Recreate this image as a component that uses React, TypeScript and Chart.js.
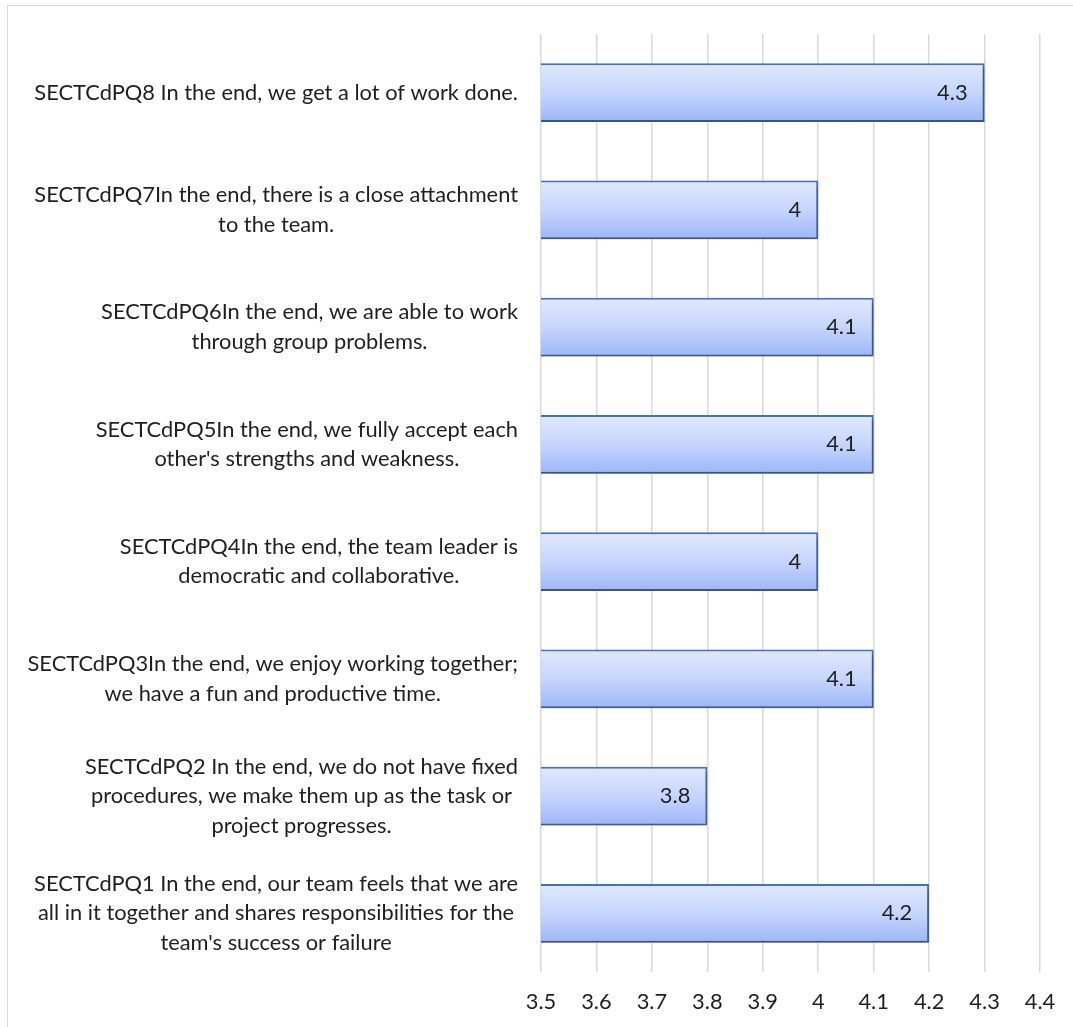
import React, { useEffect, useRef } from "react";
import { Chart, registerables } from "chart.js";

Chart.register(...registerables);

// ---- data ----
const categoryLines: string[][] = [
  ["SECTCdPQ8 In the end, we get a lot of work done."],
  ["SECTCdPQ7In the end, there is a close attachment", "to the team."],
  ["SECTCdPQ6In the end, we are able to work", "through group problems."],
  ["SECTCdPQ5In the end, we fully accept each", "other's strengths and weakness."],
  ["SECTCdPQ4In the end, the team leader is", "democratic and collaborative."],
  ["SECTCdPQ3In the end, we enjoy working together;", "we have a fun and productive time."],
  ["SECTCdPQ2 In the end, we do not have fixed", "procedures, we make them up as the task or", "project progresses."],
  ["SECTCdPQ1 In the end, our team feels that we are", "all in it together and shares responsibilities for the", "team's success or failure"],
];
const values: number[] = [4.3, 4.0, 4.1, 4.1, 4.0, 4.1, 3.8, 4.2];
const valueLabels: string[] = ["4.3", "4", "4.1", "4.1", "4", "4.1", "3.8", "4.2"];
const xTickLabels: string[] = ["3.5", "3.6", "3.7", "3.8", "3.9", "4", "4.1", "4.2", "4.3", "4.4"];
const xMin = 3.5;
const xMax = 4.4;
const xStep = 0.1;

const FONT_FAMILY = "Lato, 'Open Sans', sans-serif";
const TEXT_COLOR = "#1f1f1f";

export default function App() {
  const canvasRef = useRef<HTMLCanvasElement | null>(null);

  useEffect(() => {
    const canvas = canvasRef.current;
    if (!canvas) return;
    const mctx = canvas.getContext("2d")!;
    mctx.font = `100px ${FONT_FAMILY}`;
    const w = mctx.measureText(categoryLines[0][0]).width;
    const fontSize = Math.max(16, Math.min(26, (100 * 484) / w));
    const lineHeight = 29.5;
    const labelRight = 518;

    const barPlugin = {
      id: "excelLook",
      beforeDatasetsDraw(chart: any) {
        const ctx = chart.ctx;
        ctx.save();
        ctx.shadowColor = "rgba(0,0,0,0.32)";
        ctx.shadowBlur = 5;
        ctx.shadowOffsetX = 2;
        ctx.shadowOffsetY = 3;
      },
      afterDatasetsDraw(chart: any) {
        const ctx = chart.ctx;
        ctx.restore();
        // value labels
        const meta = chart.getDatasetMeta(0);
        ctx.save();
        ctx.font = `${fontSize}px ${FONT_FAMILY}`;
        ctx.fillStyle = TEXT_COLOR;
        ctx.textAlign = "right";
        ctx.textBaseline = "middle";
        meta.data.forEach((bar: any, i: number) => {
          const p = bar.getProps(["x", "y"], true);
          ctx.fillText(valueLabels[i], p.x - 17, p.y);
        });
        ctx.restore();
      },
      afterDraw(chart: any) {
        const ctx = chart.ctx;
        const yScale = chart.scales.y;
        ctx.save();
        ctx.font = `${fontSize}px ${FONT_FAMILY}`;
        ctx.fillStyle = TEXT_COLOR;
        ctx.textAlign = "center";
        ctx.textBaseline = "middle";
        categoryLines.forEach((lines, i) => {
          const yc = yScale.getPixelForValue(i);
          const blockW = Math.max(...lines.map((l) => ctx.measureText(l).width));
          const cx = labelRight - blockW / 2;
          const y0 = yc - ((lines.length - 1) * lineHeight) / 2;
          lines.forEach((l, k) => ctx.fillText(l, cx, y0 + k * lineHeight));
        });
        ctx.restore();
      },
    };

    const chart = new Chart(canvas, {
      type: "bar",
      data: {
        labels: categoryLines.map((l) => l.join(" ")),
        datasets: [
          {
            data: values,
            backgroundColor: (c: any) => {
              const ch = c.chart;
              const ys = ch.scales && ch.scales.y;
              if (!ch.chartArea || !ys) return "#c3d2fb";
              const yc = ys.getPixelForValue(c.dataIndex);
              const h = (ys.height / categoryLines.length) * 0.5;
              const g = ch.ctx.createLinearGradient(0, yc - h / 2, 0, yc + h / 2);
              g.addColorStop(0, "#e0e8fe");
              g.addColorStop(0.5, "#c6d5fc");
              g.addColorStop(1, "#9cb6f8");
              return g;
            },
            borderColor: "#4472c4",
            borderWidth: 2,
            borderSkipped: "start",
            categoryPercentage: 1,
            barPercentage: 0.5,
          },
        ],
      },
      options: {
        indexAxis: "y",
        responsive: false,
        animation: false,
        layout: { padding: { top: 34, right: 33, bottom: 0, left: 0 } },
        plugins: {
          legend: { display: false },
          tooltip: { enabled: false },
        },
        scales: {
          x: {
            type: "linear",
            min: xMin,
            max: xMax,
            afterFit: (s: any) => {
              s.height = 55;
            },
            afterBuildTicks: (s: any) => {
              s.ticks = xTickLabels.map((_, i) => ({ value: Number((xMin + i * xStep).toFixed(1)) }));
            },
            ticks: {
              stepSize: xStep,
              padding: 17,
              color: TEXT_COLOR,
              font: { family: FONT_FAMILY, size: fontSize },
              callback: (_v: any, i: number) => xTickLabels[i],
              maxRotation: 0,
              autoSkip: false,
            },
            grid: { color: "#d9d9d9", lineWidth: 1.5, drawTicks: false },
            border: { display: false },
          },
          y: {
            type: "category",
            afterFit: (s: any) => {
              s.width = 541;
            },
            ticks: { display: false },
            grid: { display: false, drawTicks: false },
            border: { display: false },
          },
        },
      },
      plugins: [barPlugin],
    } as any);

    return () => chart.destroy();
  }, []);

  return (
    <div style={{ position: "absolute", left: 0, top: 0, width: 1073, height: 1027, overflow: "hidden", background: "#fff" }}>
      <div
        style={{
          position: "absolute",
          left: 7,
          top: 5,
          width: 1200,
          height: 1200,
          border: "1px solid #d9d9d9",
          boxSizing: "border-box",
        }}
      />
      <canvas ref={canvasRef} width={1073} height={1027} style={{ position: "absolute", left: 0, top: 0 }} />
    </div>
  );
}
